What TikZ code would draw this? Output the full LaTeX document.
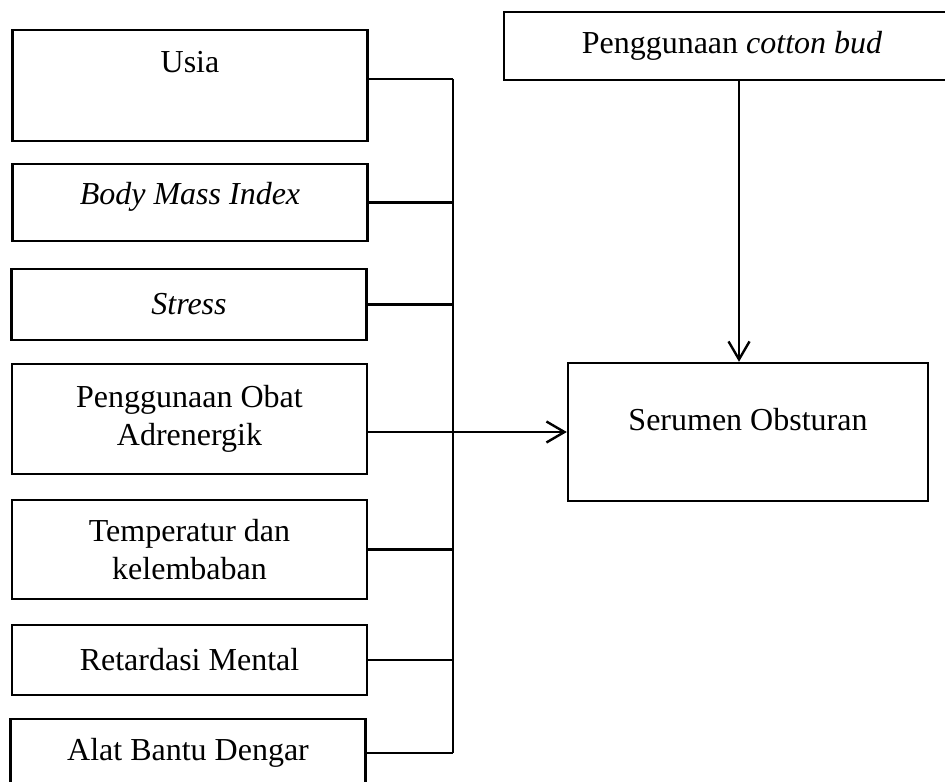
\documentclass[tikz,border=0pt]{standalone}
\usepackage{fontspec}
\setmainfont{Liberation Serif}
\usetikzlibrary{arrows.meta, positioning, calc}

\begin{document}
\begin{tikzpicture}[x=0.5pt, y=-0.5pt, line width=1.2pt,
    every node/.style={font=\fontsize{16}{19}\selectfont, align=center},
    factor/.style={draw, rectangle, minimum width=177.5pt, inner sep=0pt},
    link/.style={-{Straight Barb[length=9pt, width=10.5pt]}}]
    \useasboundingbox (0,0) rectangle (945,781);
    % faktor risiko
    \node[factor, minimum height=55.5pt, label={[yshift=11.75pt]center:Usia}] (usia) at (190,85.5) {};
    \node[factor, minimum height=38.5pt, label={[yshift=3pt]center:\textit{Body Mass Index}}] (bmi) at (190,202.5) {};
    \node[factor, minimum height=35.5pt] (stress) at (189,304.5) {\textit{Stress}};
    \node[factor, minimum height=55pt] (obat) at (189.5,419) {Penggunaan Obat\\Adrenergik};
    \node[factor, minimum height=49.5pt] (temp) at (189.5,549.5) {Temperatur dan\\kelembaban};
    \node[factor, minimum height=35pt] (retard) at (189.5,660) {Retardasi Mental};
    \node[factor, minimum height=34pt] (alat) at (188,753) {Alat Bantu Dengar};
    % kanan
    \node[draw, minimum width=228pt, minimum height=34pt] (cotton) at (732,46) {Penggunaan \textit{cotton bud}};
    \node[draw, minimum width=180pt, minimum height=69pt, label={[yshift=6pt]center:Serumen Obsturan}] (serumen) at (748,432) {};

    \coordinate (bustop) at (453,79);
    \coordinate (busbot) at (453,753);
    \draw (bustop) -- (busbot);
    \draw (usia.east |- bustop) -- (bustop);
    \foreach \f in {bmi, stress, temp, retard, alat}
        \draw (\f.east) -- (\f.east -| bustop);
    \draw[link] (obat.east |- serumen.west) -- (serumen.west);
    \draw[link] ([xshift=3.5pt]cotton.south) -- ([xshift=3.5pt]cotton.south |- serumen.north);
\end{tikzpicture}
\end{document}
